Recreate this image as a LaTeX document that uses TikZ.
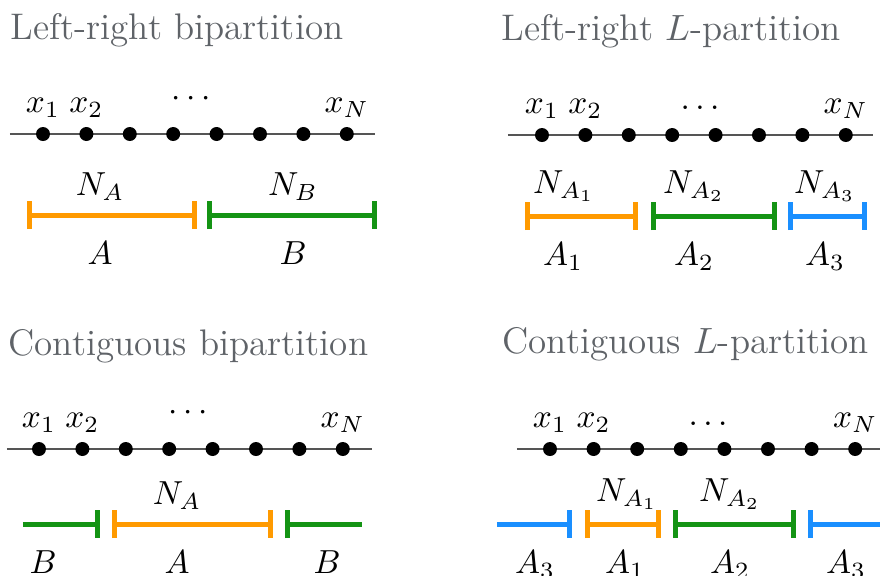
\documentclass[tikz,border=0pt]{standalone}
\usetikzlibrary{arrows.meta,positioning}
\definecolor{ink}{HTML}{000000}
\definecolor{wire}{HTML}{555555}
\definecolor{caption}{HTML}{5F6368}
\definecolor{partA}{HTML}{FF9A00}
\definecolor{partB}{HTML}{149414}
\definecolor{partC}{HTML}{1A8FFF}
% chain of eight sites: name, line left, line right, y, first site, spacing
\newcommand{\chain}[6]{%
  \coordinate (#1-l) at (#2,#4);
  \coordinate (#1-r) at (#3,#4);
  \draw[wire, line width=0.6pt] (#1-l) -- (#1-r);
  \foreach \k in {1,...,8}
    \node[circle, fill=ink, inner sep=0pt, minimum size=4.2pt] (#1-\k) at ({#5+(\k-1)*#6},#4) {};
  \node[anchor=base, inner sep=0pt] (#1-x1) at ([yshift=6.6pt]#1-1.center) {$x_1$};
  \node[anchor=base, inner sep=0pt] (#1-x2) at ([yshift=6.6pt]#1-2.center) {$x_2$};
  \node[anchor=base, inner sep=0pt] (#1-xN) at ([yshift=6.6pt]#1-8.center) {$x_N$};}
% one part of a partition: name, from, to, y, colour, tips
\newcommand{\seg}[6]{%
  \coordinate (#1-a) at (#2,#4);
  \coordinate (#1-b) at (#3,#4);
  \draw[#5, line width=1.5pt, #6] (#1-a) -- (#1-b);}

\begin{document}
\begin{tikzpicture}[x=0.3pt, y=-0.3pt, >={Bar[width=8.4pt]},
  title/.style={anchor=base west, inner sep=0pt, text=caption, font=\fontsize{11.1}{13}\selectfont},
  size/.style={above=4.2pt, inner sep=0pt},
  part/.style={below=7.8pt, inner sep=0pt}]
\useasboundingbox (0,0) rectangle (880,575);

\node[title] (t-lr) at (10,39) {Left-right bipartition};
\node[title] (t-lrL) at (501,40) {Left-right $L$-partition};
\node[title] (t-cb) at (8,355) {Contiguous bipartition};
\node[title] (t-cL) at (502,353) {Contiguous $L$-partition};

% left-right bipartition
\chain{lb}{10}{375}{134}{43}{43.4}
\node[anchor=base, inner sep=0pt] (lb-dots) at (191,106) {$\cdots$};
\seg{lbA}{27}{197}{215}{partA}{<->}
\seg{lbB}{207}{377}{215}{partB}{<->}
\node[size] (lb-nA) at (100,215) {$N_A$};
\node[size] (lb-nB) at (293,215) {$N_B$};
\node[part] (lb-A) at (100,215) {$A$};
\node[part] (lb-B) at (293,215) {$B$};

% left-right L-partition
\chain{lL}{508}{873}{135}{542}{43.4}
\node[anchor=base, inner sep=0pt] (lL-dots) at (700,109) {$\ldots$};
\seg{lL1}{525}{638}{216}{partA}{<->}
\seg{lL2}{651}{777}{216}{partB}{<->}
\seg{lL3}{788}{867}{216}{partC}{<->}
\node[size] (lL-n1) at (564,216) {$N_{A_1}$};
\node[size] (lL-n2) at (694,216) {$N_{A_2}$};
\node[size] (lL-n3) at (825,216) {$N_{A_3}$};
\node[part] (lL-A1) at (563,216) {$A_1$};
\node[part] (lL-A2) at (694,216) {$A_2$};
\node[part] (lL-A3) at (825,216) {$A_3$};

% contiguous bipartition
\chain{cb}{7}{372}{449}{39}{43.4}
\node[anchor=base, inner sep=0pt] (cb-dots) at (188,420) {$\cdots$};
\seg{cbB1}{23}{100}{524}{partB}{->}
\seg{cbA}{112}{273}{524}{partA}{<->}
\seg{cbB2}{285}{362}{524}{partB}{<-}
\node[size] (cb-nA) at (177,524) {$N_A$};
\node[part] (cb-B1) at (43,524) {$B$};
\node[part] (cb-A) at (177,524) {$A$};
\node[part] (cb-B2) at (327,524) {$B$};

% contiguous L-partition
\chain{cL}{517}{880}{449}{550}{43.6}
\node[anchor=base, inner sep=0pt] (cL-dots) at (708,425) {$\ldots$};
\seg{cL3a}{497}{572}{524}{partC}{->}
\seg{cL1}{585}{661}{524}{partA}{<->}
\seg{cL2}{673}{796}{524}{partB}{<->}
\seg{cL3b}{808}{880}{524}{partC}{<-}
\node[size] (cL-n1) at (627,524) {$N_{A_1}$};
\node[size] (cL-n2) at (730,524) {$N_{A_2}$};
\node[part] (cL-A3a) at (535,524) {$A_3$};
\node[part] (cL-A1) at (625,524) {$A_1$};
\node[part] (cL-A2) at (730,524) {$A_2$};
\node[part] (cL-A3b) at (846,524) {$A_3$};

\end{tikzpicture}
\end{document}
